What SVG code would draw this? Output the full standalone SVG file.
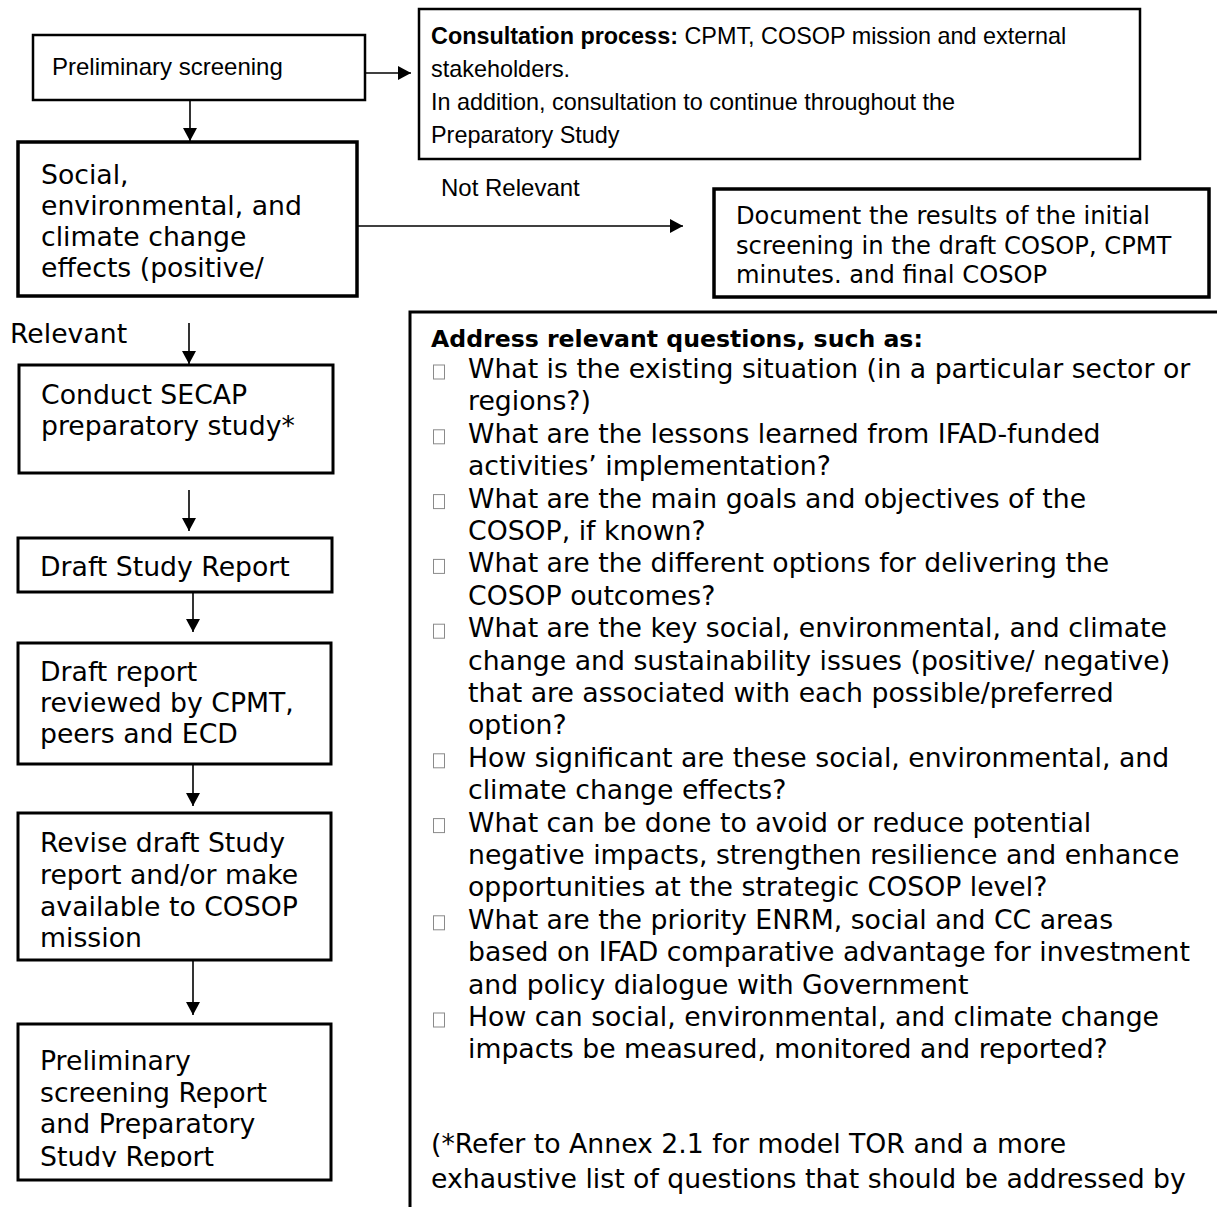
<svg xmlns="http://www.w3.org/2000/svg" width="1217" height="1207" viewBox="0 0 1217 1207">
<style>
.bx{fill:#fff;stroke:#000;stroke-width:3}
.v{font-family:"DejaVu Sans",Verdana,sans-serif;font-size:26.7px;fill:#000}
.vb{font-family:"DejaVu Sans",Verdana,sans-serif;font-size:23.6px;font-weight:bold;fill:#000}
.vd{font-family:"DejaVu Sans",Verdana,sans-serif;font-size:24.2px;fill:#000}
.c{font-family:"Liberation Sans",Arial,sans-serif;font-size:24px;fill:#000}
.cs{font-size:23.4px}
.cb{font-weight:bold}
.ln{stroke:#000;stroke-width:1.6;fill:none;marker-end:url(#ah)}
.bul{fill:#fff;stroke:#8a8a8a;stroke-width:1}
</style>
<defs>
<marker id="ah" markerUnits="userSpaceOnUse" markerWidth="14" markerHeight="14" refX="13" refY="7" orient="auto">
<path d="M0,0 L13,7 L0,14 Z" fill="#000"/>
</marker>
<clipPath id="clip7"><rect x="0" y="1024" width="340" height="143"/></clipPath>
</defs>
<rect width="1217" height="1207" fill="#fff"/>

<g id="connectors">
<line class="ln" x1="366" y1="73" x2="411" y2="73"/>
<line class="ln" x1="190" y1="100" x2="190" y2="141"/>
<line class="ln" x1="357" y1="226" x2="683" y2="226"/>
<line class="ln" x1="189" y1="323" x2="189" y2="364"/>
<line class="ln" x1="189" y1="490" x2="189" y2="531"/>
<line class="ln" x1="193" y1="593" x2="193" y2="632"/>
<line class="ln" x1="193" y1="765" x2="193" y2="806"/>
<line class="ln" x1="193" y1="961" x2="193" y2="1015"/>
</g>

<g id="preliminary-screening">
<rect class="bx" x="33" y="35" width="332" height="65" style="stroke-width:2.5"/>
<text class="c" x="52" y="75">Preliminary screening</text>
</g>

<g id="consultation">
<rect class="bx" x="419" y="9" width="721" height="150" style="stroke-width:2.5"/>
<text class="c cs" x="431" y="44"><tspan class="cb">Consultation process:</tspan> CPMT, COSOP mission and external</text>
<text class="c cs" x="431" y="77">stakeholders.</text>
<text class="c cs" x="431" y="110">In addition, consultation to continue throughout the</text>
<text class="c cs" x="431" y="143">Preparatory Study</text>
</g>

<g id="effects">
<rect class="bx" x="18" y="142" width="339" height="154" style="stroke-width:3.5"/>
<text class="v" x="41" y="184">Social,</text>
<text class="v" x="41" y="215">environmental, and</text>
<text class="v" x="41" y="246">climate change</text>
<text class="v" x="41" y="277">effects (positive/</text>
</g>

<g id="label-not-relevant">
<text class="c" x="441" y="196">Not Relevant</text>
</g>

<g id="document-results">
<rect class="bx" x="714" y="189" width="495" height="108" style="stroke-width:3.5"/>
<text class="vd" x="736" y="224">Document the results of the initial</text>
<text class="vd" x="736" y="254">screening in the draft COSOP, CPMT</text>
<text class="vd" x="736" y="283">minutes. and final COSOP</text>
</g>

<g id="label-relevant">
<text class="v" x="10" y="343">Relevant</text>
</g>

<g id="conduct-study">
<rect class="bx" x="19" y="365" width="314" height="108"/>
<text class="v" x="41" y="404">Conduct SECAP</text>
<text class="v" x="41" y="435">preparatory study*</text>
</g>

<g id="draft-study-report">
<rect class="bx" x="18" y="538" width="314" height="54"/>
<text class="v" x="40" y="576">Draft Study Report</text>
</g>

<g id="draft-reviewed">
<rect class="bx" x="18" y="643" width="313" height="121"/>
<text class="v" x="40" y="681">Draft report</text>
<text class="v" x="40" y="712">reviewed by CPMT,</text>
<text class="v" x="40" y="743">peers and ECD</text>
</g>

<g id="revise-draft">
<rect class="bx" x="18" y="813" width="313" height="147"/>
<text class="v" x="40" y="852">Revise draft Study</text>
<text class="v" x="40" y="884">report and/or make</text>
<text class="v" x="40" y="916">available to COSOP</text>
<text class="v" x="40" y="947">mission</text>
</g>

<g id="final-reports">
<rect class="bx" x="18" y="1024" width="313" height="156"/>
<g clip-path="url(#clip7)">
<text class="v" x="40" y="1070">Preliminary</text>
<text class="v" x="40" y="1102">screening Report</text>
<text class="v" x="40" y="1133">and Preparatory</text>
<text class="v" x="40" y="1166">Study Report</text>
</g>
</g>

<g id="questions">
<path d="M410,1215 L410,312 L1225,312" fill="none" stroke="#000" stroke-width="3"/>
<text class="vb" x="431" y="347">Address relevant questions, such as:</text>
<rect class="bul" x="433.5" y="365" width="11" height="14"/>
<rect class="bul" x="433.5" y="429.8" width="11" height="14"/>
<rect class="bul" x="433.5" y="494.6" width="11" height="14"/>
<rect class="bul" x="433.5" y="559.4" width="11" height="14"/>
<rect class="bul" x="433.5" y="624.2" width="11" height="14"/>
<rect class="bul" x="433.5" y="753.8" width="11" height="14"/>
<rect class="bul" x="433.5" y="818.6" width="11" height="14"/>
<rect class="bul" x="433.5" y="915.8" width="11" height="14"/>
<rect class="bul" x="433.5" y="1013" width="11" height="14"/>
<text class="v" x="468" y="378">What is the existing situation (in a particular sector or</text>
<text class="v" x="468" y="410.4">regions?)</text>
<text class="v" x="468" y="442.8">What are the lessons learned from IFAD-funded</text>
<text class="v" x="468" y="475.2">activities’ implementation?</text>
<text class="v" x="468" y="507.6">What are the main goals and objectives of the</text>
<text class="v" x="468" y="540">COSOP, if known?</text>
<text class="v" x="468" y="572.4">What are the different options for delivering the</text>
<text class="v" x="468" y="604.8">COSOP outcomes?</text>
<text class="v" x="468" y="637.2">What are the key social, environmental, and climate</text>
<text class="v" x="468" y="669.6">change and sustainability issues (positive/ negative)</text>
<text class="v" x="468" y="702">that are associated with each possible/preferred</text>
<text class="v" x="468" y="734.4">option?</text>
<text class="v" x="468" y="766.8">How significant are these social, environmental, and</text>
<text class="v" x="468" y="799.2">climate change effects?</text>
<text class="v" x="468" y="831.6">What can be done to avoid or reduce potential</text>
<text class="v" x="468" y="864">negative impacts, strengthen resilience and enhance</text>
<text class="v" x="468" y="896.4">opportunities at the strategic COSOP level?</text>
<text class="v" x="468" y="928.8">What are the priority ENRM, social and CC areas</text>
<text class="v" x="468" y="961.2">based on IFAD comparative advantage for investment</text>
<text class="v" x="468" y="993.6">and policy dialogue with Government</text>
<text class="v" x="468" y="1026">How can social, environmental, and climate change</text>
<text class="v" x="468" y="1058.4">impacts be measured, monitored and reported?</text>
<text class="v" x="431" y="1153">(*Refer to Annex 2.1 for model TOR and a more</text>
<text class="v" x="431" y="1188">exhaustive list of questions that should be addressed by</text>
</g>
</svg>
